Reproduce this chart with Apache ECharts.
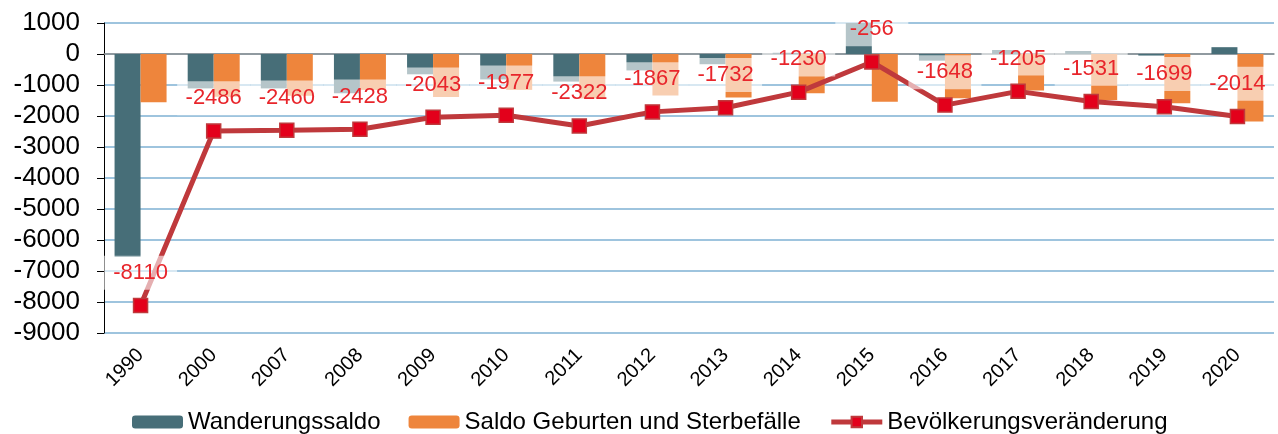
<!DOCTYPE html>
<html lang="de">
<head>
  <meta charset="UTF-8">
  <title>Bevölkerungsveränderung</title>
  <script src="https://cdn.jsdelivr.net/npm/echarts@6/dist/echarts.min.js"></script>
  <style>
    body { margin: 0; padding: 0; background: #fff; }
    #chart { width: 1278px; height: 434px; }
  </style>
</head>
<body>
  <div id="chart"></div>
  <script>
    // Jahre (Kategorien)
    const years = ['1990', '2000', '2007', '2008', '2009', '2010', '2011', '2012',
                   '2013', '2014', '2015', '2016', '2017', '2018', '2019', '2020'];

    // Werte (Personen)
    const wanderungssaldo = [-6550, -1110, -1110, -1270, -655, -820, -890, -530,
                             -330, 40, 1284, -215, 130, 80, -50, 220];
    const saldoGeburtenSterbe = [-1560, -1376, -1350, -1158, -1388, -1157, -1432, -1337,
                                 -1400, -1270, -1540, -1430, -1180, -1480, -1590, -2180];
    const veraenderung = [-8110, -2486, -2460, -2428, -2043, -1977, -2322, -1867,
                          -1732, -1230, -256, -1648, -1205, -1531, -1699, -2014];

    const font = 'Liberation Sans';
    const chart = echarts.init(document.getElementById('chart'));

    chart.setOption({
      animation: false,
      textStyle: { fontFamily: font },
      grid: { left: 104, right: 4, top: 23, bottom: 101, outerBoundsMode: 'none' },
      legend: {
        left: 127,
        top: 405,
        itemWidth: 51,
        itemHeight: 13,
        itemGap: 28,
        textStyle: { fontSize: 24, color: '#000', fontFamily: font },
        data: [
          'Wanderungssaldo',
          'Saldo Geburten und Sterbefälle',
          { name: 'Bevölkerungsveränderung', lineStyle: { width: 5, color: '#bf393c' } }
        ]
      },
      xAxis: [
        {
          type: 'category',
          data: years,
          axisLine: { show: false, onZero: false },
          axisTick: { show: false },
          axisLabel: { rotate: 45, fontSize: 20, color: '#000', margin: 19, interval: 0, fontFamily: font }
        },
        {
          // Nulllinie mit Teilstrichen
          type: 'category',
          data: years,
          position: 'top',
          axisLine: { onZero: true, lineStyle: { color: '#8c8c8c', width: 1.5 } },
          axisTick: { inside: true, length: 6, lineStyle: { color: '#404040' } },
          axisLabel: { show: false }
        }
      ],
      yAxis: {
        type: 'value',
        min: -9000,
        max: 1000,
        interval: 1000,
        axisLine: { show: true, lineStyle: { color: '#000', width: 1 } },
        axisTick: { show: true, length: 7, lineStyle: { color: '#000' } },
        axisLabel: {
          fontSize: 26,
          color: '#000',
          margin: 24,
          fontFamily: font,
          formatter: function (v) { return String(v); }
        },
        splitLine: { lineStyle: { color: '#7eb1d3', width: 1.5 } }
      },
      series: [
        {
          name: 'Wanderungssaldo',
          type: 'bar',
          data: wanderungssaldo,
          barWidth: 26,
          barGap: '0%',
          itemStyle: { color: '#476e78' }
        },
        {
          name: 'Saldo Geburten und Sterbefälle',
          type: 'bar',
          data: saldoGeburtenSterbe,
          barWidth: 26,
          barGap: '0%',
          itemStyle: { color: '#ee853c' }
        },
        {
          name: 'Bevölkerungsveränderung',
          type: 'line',
          data: veraenderung,
          z: 5,
          symbol: 'rect',
          symbolSize: 14,
          lineStyle: { color: '#bf393c', width: 5 },
          itemStyle: { color: '#e3001b', borderColor: '#bf393c', borderWidth: 1.5 },
          label: {
            show: true,
            position: 'top',
            distance: 8,
            fontSize: 22,
            color: '#e8252b',
            fontFamily: font,
            backgroundColor: 'rgba(255,255,255,0.6)',
            padding: [5, 8],
            width: 57,
            lineHeight: 24,
            align: 'center'
          }
        }
      ]
    });
  </script>
</body>
</html>
